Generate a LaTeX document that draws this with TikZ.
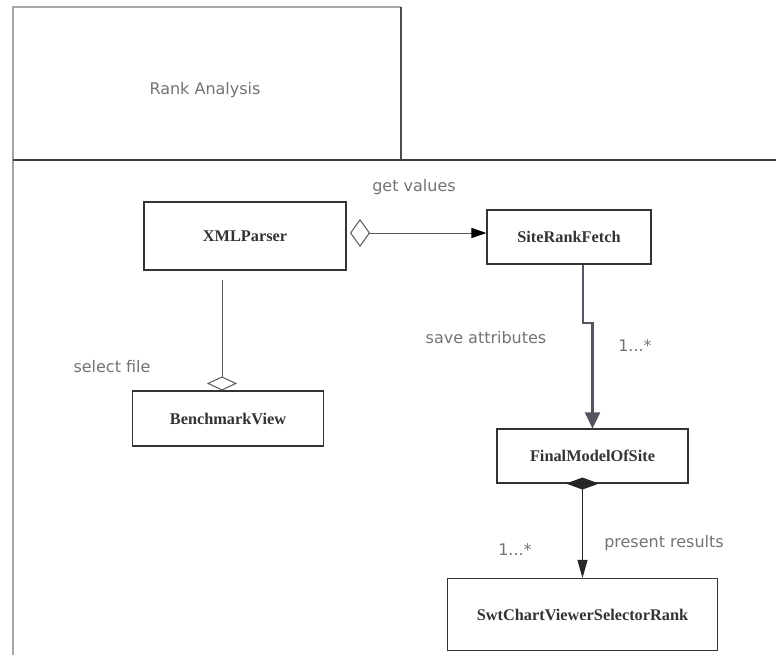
\documentclass[tikz,border=0pt]{standalone}
\usepackage{fontspec}
\setmainfont{Liberation Serif}
\newfontfamily\lblfont{DejaVu Sans}
\usepackage{tikz}
\usetikzlibrary{arrows.meta}
\definecolor{heavygray}{HTML}{55555F}

\begin{document}
\begin{tikzpicture}[x=1pt, y=-1pt,
  cls/.style={draw=black!80, line width=1.1pt, text=black!80, inner sep=0pt,
    font=\bfseries\fontsize{16.3}{19}\selectfont},
  lbl/.style={text=black!55, inner sep=0pt, font=\lblfont\fontsize{16}{19}\selectfont}]
  \useasboundingbox (0,0) rectangle (776,659);
  % package frame with its name tab
  \draw[black!35, line width=1.6pt] (13,655) -- (13,7) -- (401,7);
  \draw[black!70, line width=1.1pt] (401,7) -- (401,160);
  \draw[black!75, line width=1.4pt] (13,160) -- (776,160);
  \node[lbl] (pkg) at (205,90) {Rank Analysis};

  % classes
  \node[cls, minimum width=202pt, minimum height=68pt] (xml) at (245,236) {XMLParser};
  \node[cls, minimum width=164pt, minimum height=54pt] (site) at (569,237) {SiteRankFetch};
  \node[cls, minimum width=191pt, minimum height=55pt] (bench) at (228,418.5) {BenchmarkView};
  \node[cls, minimum width=191pt, minimum height=54pt] (final) at (592.5,456) {FinalModelOfSite};
  \node[cls, minimum width=270pt, minimum height=72pt] (swt) at (582.5,614.5) {SwtChartViewerSelectorRank};

  % connector end points
  \coordinate (gvS) at (350,233);
  \coordinate (sfS) at (222,280);
  \coordinate (saJ) at (583,323);

  % associations
  \draw[black!65, line width=1pt, {Diamond[open, length=20pt, width=28pt]}-{Triangle[length=15pt, width=10pt, black]}]
    (gvS) -- (site.west |- gvS);
  \draw[black!65, line width=1pt, {Diamond[open, length=14pt, width=30pt]}-]
    (bench.north -| sfS) -- (sfS);
  \draw[heavygray, line width=2.6pt, -{Triangle[length=16pt, width=15pt]}]
    (site.south -| saJ) -- (saJ) -| (final.north);
  \draw[black!85, line width=1.1pt, {Diamond[length=12pt, width=33pt]}-{Triangle[length=18pt, width=10pt]},
    shorten <=-6pt] (final.south -| swt.north) -- (swt.north);

  % labels
  \node[lbl] (gv) at (414,187) {get values};
  \node[lbl] (sf) at (112,367) {select file};
  \node[lbl] (sa) at (486,338) {save attributes};
  \node[lbl] (m1) at (635,346) {1...*};
  \node[lbl] (m2) at (515,550) {1...*};
  \node[lbl] (pr) at (664,543) {present results};
\end{tikzpicture}
\end{document}
